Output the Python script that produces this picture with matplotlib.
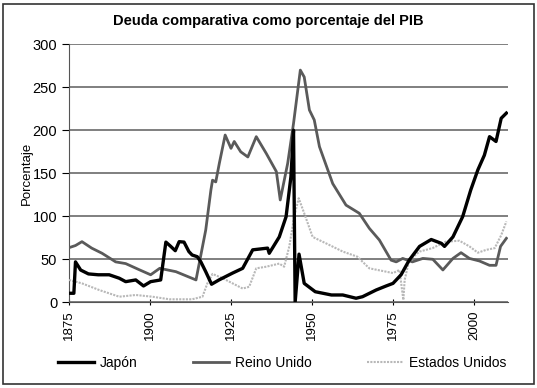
import matplotlib
matplotlib.use('Agg')
import matplotlib.pyplot as plt
from matplotlib.patches import Rectangle

plt.rcParams['font.family'] = ['Liberation Sans', 'DejaVu Sans']

# Japón
jp_years = [1875, 1876.5, 1877, 1878.6, 1881, 1884, 1887.4, 1890.5, 1892.5, 1895.6, 1898, 1900.2,
            1903.3, 1904.9, 1906.4, 1907.8, 1909, 1910.5, 1912, 1913, 1914.6, 1915.7, 1917.2, 1919,
            1921.3, 1923.4, 1925.5, 1928.6, 1931.7, 1936.3, 1936.8, 1939.9, 1942, 1943.5, 1944.3,
            1944.8, 1946, 1947.6, 1951, 1956, 1959.5, 1963.6, 1965.6, 1969.8, 1972.9, 1975, 1977.5,
            1980, 1983.2, 1986.8, 1989.9, 1990.9, 1993.5, 1996.5, 1999, 2001.2, 2003.2, 2004.8,
            2006.8, 2008.4, 2010]
jp_vals = [10.5, 10.5, 47, 37.5, 33, 32, 32, 28, 24, 26, 19, 24,
           26, 70, 65, 60, 70.5, 70, 59, 55, 53, 47, 35.6, 21,
           26, 30, 34, 39.5, 61, 63, 57, 76, 99.5, 146, 200,
           0, 56, 22, 12.3, 8.5, 8.5, 4.7, 6.5, 14.3, 19, 22, 32,
           49, 65, 73, 68.6, 65, 76, 99.5, 130.6, 154, 171, 192.6,
           187, 214, 220]

# Reino Unido
uk_years = [1875, 1877, 1879, 1882, 1885.2, 1889.4, 1892.5, 1896.6, 1900.2, 1903, 1908, 1914.2,
            1917.2, 1918.8, 1919.3, 1920.3, 1921.4, 1923.2, 1925, 1926, 1928, 1930.2, 1932.8,
            1935.9, 1939, 1940.2, 1942.5, 1944.3, 1946.4, 1947.6, 1949.2, 1950.7, 1952.3, 1956.4,
            1960.5, 1964.6, 1967.7, 1970.8, 1974.4, 1976, 1978, 1981, 1984.2, 1987.3, 1990.4,
            1993.5, 1996, 1998.6, 2001.7, 2004.8, 2006.8, 2008.2, 2010]
uk_vals = [63.5, 66, 70.5, 63, 57, 47, 45, 38, 32, 39.5, 35.6, 26,
           84, 130.6, 142, 140, 161.6, 194.5, 179, 187, 175, 169, 192.6,
           173, 152, 119, 161.6, 208, 270, 262, 223.6, 212, 181, 138,
           113, 103.5, 86, 72.4, 49, 47, 51, 47, 51, 50, 37.6,
           51, 57.7, 51, 48, 43, 43, 65, 74.4]

# Estados Unidos
us_years = [1875, 1879, 1884.3, 1890.5, 1895.6, 1900.7, 1906, 1913, 1916.2, 1917.7, 1919.3,
            1922.4, 1928.6, 1930.6, 1932.8, 1935.9, 1939.9, 1941.4, 1943, 1944.5, 1945.9, 1947.6,
            1950.2, 1954.3, 1959.5, 1964, 1967.7, 1975, 1977, 1978.2, 1978.6, 1980, 1983.2, 1987.2,
            1991.3, 1995.5, 1998.6, 2001.2, 2003.8, 2006.4, 2008.4, 2010]
us_vals = [26, 22, 14.3, 6.5, 8.5, 6.5, 3.5, 3.5, 6.5, 22, 33,
           28, 16, 18, 39.5, 41.4, 45, 41.4, 65, 99.5, 121, 103.5,
           76, 68.6, 59, 53, 39.5, 34, 37.6, 2.7, 26, 49, 59, 63,
           70.5, 71.6, 65, 57.7, 61, 63, 78, 94]

x_ticks = [1875, 1900, 1925, 1950, 1975, 2000]
y_ticks = [0, 50, 100, 150, 200, 250, 300]

fig = plt.figure(figsize=(5.37, 3.88), dpi=100)
ax = fig.add_axes([0.1285, 0.2209, 0.8175, 0.6649])

ax.plot(us_years, us_vals, color='#b8b8b8', lw=1.5, ls=(0, (1, 0.6)), label='Estados Unidos', zorder=3)
ax.plot(uk_years, uk_vals, color='#5a5a5a', lw=2, label='Reino Unido', zorder=4)
ax.plot(jp_years, jp_vals, color='black', lw=2.4, label='Japón', zorder=5)

ax.set_xlim(1875, 2010.5)
ax.set_ylim(0, 300)
ax.set_xticks(x_ticks)
ax.set_xticklabels([str(t) for t in x_ticks], rotation=90, fontsize=9.5)
ax.set_yticks(y_ticks)
ax.tick_params(axis='y', labelsize=10.5, length=5, direction='out')
ax.tick_params(axis='x', length=5, direction='inout')
ax.yaxis.grid(True, color='#6a6a6a', lw=1.2)
ax.set_axisbelow(True)
for s in ['top', 'right']:
    ax.spines[s].set_visible(False)
ax.spines['left'].set_color('#555555')
ax.spines['bottom'].set_color('#555555')

ax.set_ylabel('Porcentaje', fontsize=9.5, labelpad=0)
fig.text(0.5, 0.947, 'Deuda comparativa como porcentaje del PIB', ha='center', va='center',
         fontsize=10.5, fontweight='bold')

handles, labels = ax.get_legend_handles_labels()
order = [2, 1, 0]
fig.legend([handles[i] for i in order], [labels[i] for i in order], loc='center',
           bbox_to_anchor=(0.525, 0.064), ncol=3, frameon=False, fontsize=10,
           handlelength=2.6, handletextpad=0.4, columnspacing=4.0)

fig.patches.append(Rectangle((0.006, 0.01), 0.988, 0.98, transform=fig.transFigure,
                             fill=False, edgecolor='#333333', lw=1.2))

fig.savefig('out.png', dpi=100)
